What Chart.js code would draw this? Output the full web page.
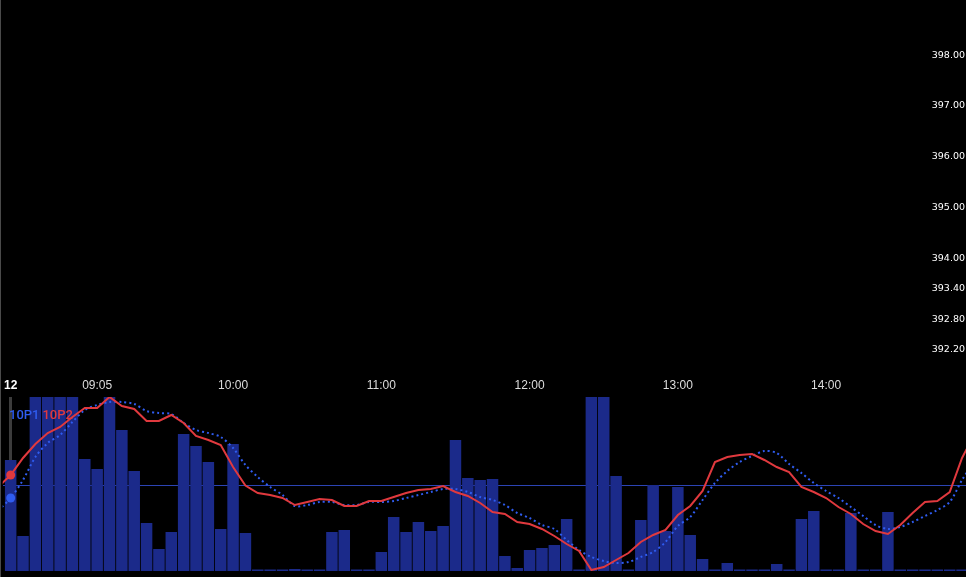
<!DOCTYPE html>
<html>
<head>
<meta charset="utf-8">
<script src="https://cdn.jsdelivr.net/npm/chart.js@4.4.1/dist/chart.umd.min.js"></script>
<style>
  html, body { margin: 0; padding: 0; background: #000; overflow: hidden; }
  #wrap { position: relative; width: 966px; height: 577px; background: #000; }
  #topBox { position: absolute; left: 0; top: 0; width: 966px; height: 372px; }
  #botBox { position: absolute; left: 0; top: 372px; width: 966px; height: 205px; }
  #edge { position: absolute; left: 0; top: 0; width: 1px; height: 577px; background: #4a4a4a; }
  #legend { position: absolute; left: 9px; top: 407px; font: 500 13px Roboto, "Liberation Sans", sans-serif; letter-spacing: 0; }
  #legend .p1 { color: #2f5cf0; }
  #legend .p2 { color: #e0393e; margin-left: 3px; }
</style>
</head>
<body>
<div id="wrap">
  <div id="topBox"><canvas id="priceChart"></canvas></div>
  <div id="botBox"><canvas id="oscChart"></canvas></div>
  <div id="edge"></div>
  <div id="legend"><span class="p1">10P1</span><span class="p2">10P2</span></div>
</div>
<script>
// price panel (empty), only the right hand scale is shown
const priceTicks = [398.00, 397.00, 396.00, 395.00, 394.00, 393.40, 392.80, 392.20];
const priceMin = 391.875;
const priceMax = 398.975;

// lower panel: one bar every 5 minutes, bar 0 is the "12" mark
const tickIdx  = [0, 7, 18, 30, 42, 54, 66];
const tickText = ['12', '09:05', '10:00', '11:00', '12:00', '13:00', '14:00'];

const volume = [
  111, 35, 190, 200, 185, 180, 112, 102, 178, 141,
  100, 48, 22, 39, 137, 125, 109, 42, 127, 38,
  1.5, 1.5, 1.5, 2, 1.5, 1.5, 39, 41, 1.5, 1.5,
  19, 54, 39, 49, 40, 45, 131, 93, 91, 92,
  15, 3, 21, 23, 26, 52, 1.5, 210, 205, 95,
  1.5, 51, 86, 40, 84, 36, 12, 1.5, 8, 1.5,
  1.5, 1.5, 7, 1.5, 52, 60, 1.5, 1.5, 58, 1.5,
  1.5, 59, 1.5, 1.5, 1.5, 1.5, 1.5, 1.5
];

// both lines start one bar before the first visible bar (index -1)
const lineStart = -1;
const op1 = [
  60.5, 73, 91, 114, 128, 136, 149, 161, 166, 169, 169,
  167, 160, 158, 157, 148, 141, 138, 134, 123, 106,
  94, 84, 76, 65, 66, 69, 69, 66, 66, 69,
  69, 70, 73, 76, 79, 82, 82, 79, 74, 71,
  66, 58, 53, 46, 42, 31, 21, 14, 10, 8,
  9, 14, 19, 29, 45, 54, 71, 88, 100, 109,
  115, 120, 118, 107, 98, 88, 80, 73, 64, 55,
  46, 42, 44, 49, 55, 61, 69, 91, 110
];
const op2 = [
  84, 96, 113, 127, 138, 144, 154, 163, 163, 174, 165,
  162, 150, 150, 156, 148, 135, 131, 126, 104, 85.5,
  78, 76, 73, 66, 69, 72, 71, 65, 65, 70,
  70, 74, 78, 81, 82, 85, 79, 75, 68, 59,
  57, 49, 47, 42, 35, 27, 20, 1, 4, 11,
  18, 29, 36, 41, 56, 65, 80, 109, 114, 116,
  117, 111, 104, 99, 84, 79, 73, 64, 57, 47,
  40, 37, 46, 58, 69, 70, 79, 113, 137
];
const refLine = [86];
const cursorIdx = 0;

const xMin = -0.646;
const xMax = 77.32;

new Chart(document.getElementById('priceChart'), {
  type: 'line',
  data: { datasets: [] },
  options: {
    animation: false,
    responsive: true,
    maintainAspectRatio: false,
    layout: { padding: { right: 1 } },
    plugins: { legend: { display: false }, tooltip: { enabled: false } },
    scales: {
      x: { type: 'linear', display: false, min: xMin, max: xMax },
      y: {
        position: 'right',
        min: priceMin,
        max: priceMax,
        afterBuildTicks: s => { s.ticks = priceTicks.map(v => ({ value: v })); },
        grid: { display: false, drawTicks: false },
        border: { display: false },
        ticks: {
          color: '#ffffff',
          padding: 0,
          font: { family: 'DejaVu Sans', size: 9.5 },
          callback: v => Number(v).toFixed(2)
        }
      }
    }
  }
});

const toPts = (arr, start) => arr.map((v, i) => ({ x: i + start, y: v }));

new Chart(document.getElementById('oscChart'), {
  type: 'bar',
  data: {
    datasets: [
      {
        type: 'line',
        label: '10P2',
        data: toPts(op2, lineStart),
        borderColor: '#e0393e',
        backgroundColor: '#e0393e',
        borderWidth: 2,
        tension: 0,
        pointRadius: ctx => (ctx.raw && ctx.raw.x === cursorIdx ? 4.5 : 0),
        pointBorderWidth: 0
      },
      {
        type: 'line',
        label: '10P1',
        data: toPts(op1, lineStart),
        borderColor: '#2f5cf0',
        backgroundColor: '#2f5cf0',
        borderWidth: 2,
        borderDash: [2, 3],
        tension: 0.3,
        pointRadius: ctx => (ctx.raw && ctx.raw.x === cursorIdx ? 4.5 : 0),
        pointBorderWidth: 0
      },
      {
        label: 'vol',
        data: toPts(volume, 0),
        backgroundColor: '#1b2a8a',
        borderWidth: 0,
        barPercentage: 0.93,
        categoryPercentage: 1.0
      }
    ]
  },
  options: {
    animation: false,
    responsive: true,
    maintainAspectRatio: false,
    layout: { padding: { left: 0, right: 0, top: 0, bottom: 6 } },
    plugins: { legend: { display: false }, tooltip: { enabled: false } },
    scales: {
      x: {
        type: 'linear',
        position: 'top',
        offset: false,
        min: xMin,
        max: xMax,
        z: 1,
        afterBuildTicks: s => { s.ticks = tickIdx.map(v => ({ value: v })); },
        afterFit: s => { s.height = 25; },
        grid: {
          offset: false,
          drawTicks: false,
          lineWidth: 3,
          color: ctx => (ctx.tick && ctx.tick.value === cursorIdx ? 'rgba(150,150,150,0.4)' : 'rgba(0,0,0,0)')
        },
        border: { display: false },
        ticks: {
          padding: 4,
          maxRotation: 0,
          autoSkip: false,
          color: ctx => (ctx.tick && ctx.tick.value === 0 ? '#ffffff' : '#dddddd'),
          font: ctx => (ctx.tick && ctx.tick.value === 0
            ? { family: 'Liberation Sans', size: 12, weight: 'bold' }
            : { family: 'Liberation Sans', size: 12 }),
          callback: v => tickText[tickIdx.indexOf(v)]
        }
      },
      y: {
        min: 0,
        max: 174,
        z: 1,
        afterBuildTicks: s => { s.ticks = refLine.map(v => ({ value: v })); },
        grid: { color: '#2c44b4', lineWidth: 1, drawTicks: false },
        border: { display: false },
        ticks: { display: false }
      }
    }
  }
});
</script>
</body>
</html>
